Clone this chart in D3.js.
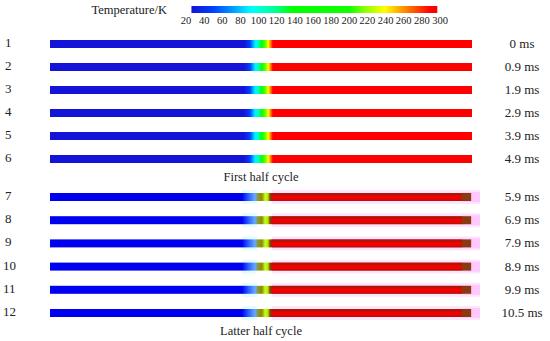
<!DOCTYPE html>
<html>
<head>
<meta charset="utf-8">
<script src="https://cdn.jsdelivr.net/npm/d3@7"></script>
<style>
  body { margin: 0; background: #fff; }
  text { font-family: "Liberation Serif", "DejaVu Serif", serif; fill: #222; }
</style>
</head>
<body>
<div id="chart"></div>
<script>
// temperature colour bar
const tempTicks = [20, 40, 60, 80, 100, 120, 140, 160, 180, 200, 220, 240, 260, 280, 300];
const jetTemps  = [20, 45, 70, 88, 115, 135, 200, 218, 240, 265, 292, 300];
const jetColors = ['#1414d8', '#0040ff', '#00a8ff', '#00ffff', '#00ff90', '#00ff00', '#10ff00', '#90ff00', '#ffff00', '#ff8000', '#ff0000', '#ff0000'];

// rows
const rowLabels = ['1', '2', '3', '4', '5', '6', '7', '8', '9', '10', '11', '12'];
const timeLabels = ['0 ms', '0.9 ms', '1.9 ms', '2.9 ms', '3.9 ms', '4.9 ms',
                    '5.9 ms', '6.9 ms', '7.9 ms', '8.9 ms', '9.9 ms', '10.5 ms'];

// temperature profile along the rod (position 0..100), first half cycle
const firstPos  = [0, 46.0, 47.4, 48.6, 49.3, 50.2, 51.2, 51.7, 52.4, 52.8, 100];
const firstTemp = [20, 20, 45, 85, 100, 150, 215, 240, 270, 295, 295];

// latter half cycle: rendered colours along the rod
const latterPos    = [0, 45.5, 47, 48.6, 49.3, 50.2, 51, 51.7, 52.1, 52.6, 53, 97.4, 97.7, 99.8];
const latterColors = ['#0000f0', '#0000f0', '#2a5cff', '#6aa8ff', '#8a9a30', '#8c8c00', '#c8ff20', '#b0e000', '#705000', '#d01000', '#f50000', '#f50000', '#8a3a10', '#8a3a10'];

const W = 550, H = 341;
const svg = d3.select('#chart').append('svg').attr('width', W).attr('height', H);
const defs = svg.append('defs');

const color = d3.scaleLinear().domain(jetTemps).range(jetColors).clamp(true);
const xT = d3.scaleLinear().domain([20, 300]).range([186, 440]);
const x = d3.scaleLinear().domain([0, 100]).range([50, 472]);
const yFirst = d3.scaleLinear().domain([0, 5]).range([44, 159]);
const yLatter = d3.scaleLinear().domain([6, 11]).range([197, 313]);
const y = i => i < 6 ? yFirst(i) : yLatter(i);
const barH = 8;

// colour bar
const cb = defs.append('linearGradient').attr('id', 'cbar');
cb.selectAll('stop').data(d3.range(20, 301, 5)).enter().append('stop')
  .attr('offset', d => (d - 20) / 280).attr('stop-color', d => color(d));
svg.append('rect').attr('x', xT(26)).attr('y', 6).attr('width', xT(297) - xT(26)).attr('height', 7)
  .attr('fill', 'url(#cbar)');
svg.append('g').selectAll('text').data(tempTicks).enter().append('text')
  .attr('x', d => xT(d)).attr('y', 24).attr('text-anchor', 'middle').style('font-size', '10.5px')
  .text(d => d);
svg.append('text').attr('x', 167).attr('y', 14).attr('text-anchor', 'end').style('font-size', '12.5px')
  .text('Temperature/K');

// gradients for the rods
const g1 = defs.append('linearGradient').attr('id', 'first');
g1.selectAll('stop').data(firstPos).enter().append('stop')
  .attr('offset', d => d / 100).attr('stop-color', (d, i) => color(firstTemp[i]));
const g2 = defs.append('linearGradient').attr('id', 'latter');
g2.selectAll('stop').data(latterPos).enter().append('stop')
  .attr('offset', d => d / 99.8).attr('stop-color', (d, i) => latterColors[i]);

const rows = svg.append('g').selectAll('g').data(rowLabels).enter().append('g');
const latter = rows.filter((d, i) => i >= 6);

// halos behind latter-half rods
latter.append('rect')
  .attr('x', x(52.6)).attr('y', (d, i) => y(i + 6) - barH / 2 - 3)
  .attr('width', x(101.9) - x(52.6)).attr('height', barH + 6).attr('fill', '#fde6fd');
latter.append('rect')
  .attr('x', x(97.7)).attr('y', (d, i) => y(i + 6) - barH / 2 - 1)
  .attr('width', x(101.9) - x(97.7)).attr('height', barH + 2).attr('fill', '#ffc8ff');
latter.append('rect')
  .attr('x', x(45.5)).attr('y', (d, i) => y(i + 6) - barH / 2 - 3)
  .attr('width', x(49) - x(45.5)).attr('height', barH + 6).attr('fill', '#e4fbff');

rows.append('rect')
  .attr('x', x(0)).attr('y', (d, i) => y(i) - barH / 2)
  .attr('width', (d, i) => i < 6 ? x(100) - x(0) : x(99.8) - x(0)).attr('height', barH)
  .attr('fill', (d, i) => i < 6 ? 'url(#first)' : 'url(#latter)');

// darker edges on the hot part of latter-half rods
latter.append('rect')
  .attr('x', x(52.6)).attr('y', (d, i) => y(i + 6) - barH / 2)
  .attr('width', x(97.7) - x(52.6)).attr('height', 2.5).attr('fill', '#8a2010').attr('opacity', 0.65);
latter.append('rect')
  .attr('x', x(52.6)).attr('y', (d, i) => y(i + 6) + barH / 2 - 1.5)
  .attr('width', x(97.7) - x(52.6)).attr('height', 1.5).attr('fill', '#8a2010').attr('opacity', 0.65);

rows.append('text').attr('x', (d, i) => i < 9 ? 5 : 3).attr('y', (d, i) => y(i) + 3)
  .style('font-size', '13px').text(d => d);
rows.append('text').attr('x', 522).attr('y', (d, i) => y(i) + 4).attr('text-anchor', 'middle')
  .style('font-size', '13px').text((d, i) => timeLabels[i]);

svg.append('text').attr('x', 261).attr('y', 181).attr('text-anchor', 'middle').style('font-size', '12.5px')
  .text('First half cycle');
svg.append('text').attr('x', 261).attr('y', 335).attr('text-anchor', 'middle').style('font-size', '12.5px')
  .text('Latter half cycle');
</script>
</body>
</html>
